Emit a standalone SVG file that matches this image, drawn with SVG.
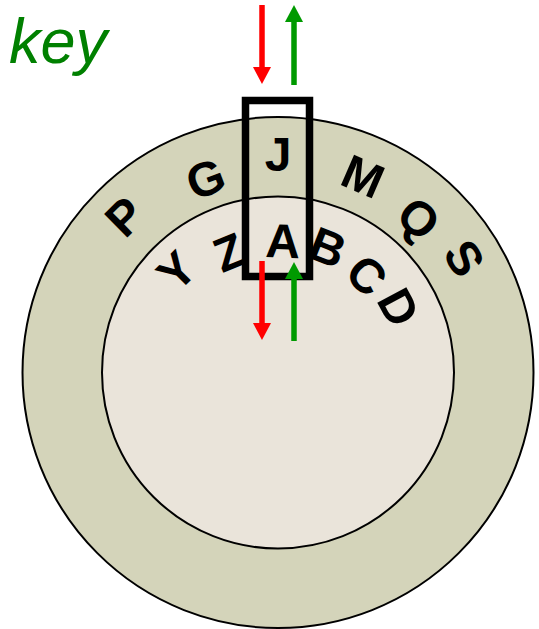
<svg xmlns="http://www.w3.org/2000/svg" width="539" height="629" viewBox="0 0 539 629">
<style>
.ltr{font-family:"Liberation Sans",Arial,sans-serif;font-weight:bold;font-size:48px;fill:#000;text-anchor:middle}
.ring{stroke:#000;stroke-width:2}
.red{stroke:#ff0000;stroke-width:5.5;fill:none}
.grn{stroke:#009a00;stroke-width:5.5;fill:none}
</style>
<defs>
<marker id="hr" viewBox="0 -9 17 18" refX="0" refY="0" markerWidth="17" markerHeight="18" markerUnits="userSpaceOnUse" orient="auto"><path d="M0,-9 L17,0 L0,9 Z" fill="#ff0000"/></marker>
<marker id="hg" viewBox="0 -9 17 18" refX="0" refY="0" markerWidth="17" markerHeight="18" markerUnits="userSpaceOnUse" orient="auto"><path d="M0,-9 L17,0 L0,9 Z" fill="#009a00"/></marker>
</defs>
<rect width="539" height="629" fill="#fff"/>
<g id="outer-ring"><circle class="ring" cx="278" cy="372.5" r="255.5" fill="#d4d4ba"/></g>
<g id="inner-disc"><circle class="ring" cx="278" cy="372.5" r="176" fill="#eae4da"/></g>
<g id="outer-letters">
<text class="ltr" transform="translate(278 372.5) rotate(-44.5) translate(0 -219)" x="0" y="17">P</text>
<text class="ltr" transform="translate(278 372.5) rotate(-20.5) translate(0 -207)" x="0" y="17">G</text>
<text class="ltr" transform="translate(278 372.5) rotate(0) translate(0 -219)" x="0" y="17">J</text>
<text class="ltr" transform="translate(278 372.5) rotate(23.4) translate(0 -214)" x="0" y="17">M</text>
<text class="ltr" transform="translate(278 372.5) rotate(42.4) translate(0 -209)" x="0" y="17">Q</text>
<text class="ltr" transform="translate(278 372.5) rotate(58.5) translate(0 -219)" x="0" y="17">S</text>
</g>
<g id="inner-letters">
<text class="ltr" transform="translate(278 372.5) rotate(-45) translate(0 -144)" x="0" y="17">Y</text>
<text class="ltr" transform="translate(278 372.5) rotate(-22) translate(0 -130)" x="0" y="17">Z</text>
<text class="ltr" transform="translate(278 372.5) rotate(2.2) translate(0 -132)" x="0" y="17">A</text>
<text class="ltr" transform="translate(278 372.5) rotate(21.7) translate(0 -135)" x="0" y="17">B</text>
<text class="ltr" transform="translate(278 372.5) rotate(42.4) translate(0 -132)" x="0" y="17">C</text>
<text class="ltr" transform="translate(278 372.5) rotate(61.6) translate(0 -137.6)" x="0" y="17">D</text>
</g>
<g id="key"><text x="9" y="63" font-family="'Liberation Sans',Arial,sans-serif" font-style="italic" font-size="63" fill="#008000">key</text></g>
<g id="window"><rect x="245.5" y="100.5" width="64" height="176" fill="none" stroke="#000" stroke-width="7.5"/></g>
<g id="connectors">
<line class="red" x1="262" y1="5" x2="262" y2="67" marker-end="url(#hr)"/>
<line class="grn" x1="294" y1="85" x2="294" y2="22" marker-end="url(#hg)"/>
<line class="red" x1="262" y1="261" x2="262" y2="323" marker-end="url(#hr)"/>
<line class="grn" x1="294" y1="341" x2="294" y2="279" marker-end="url(#hg)"/>
</g>
</svg>
